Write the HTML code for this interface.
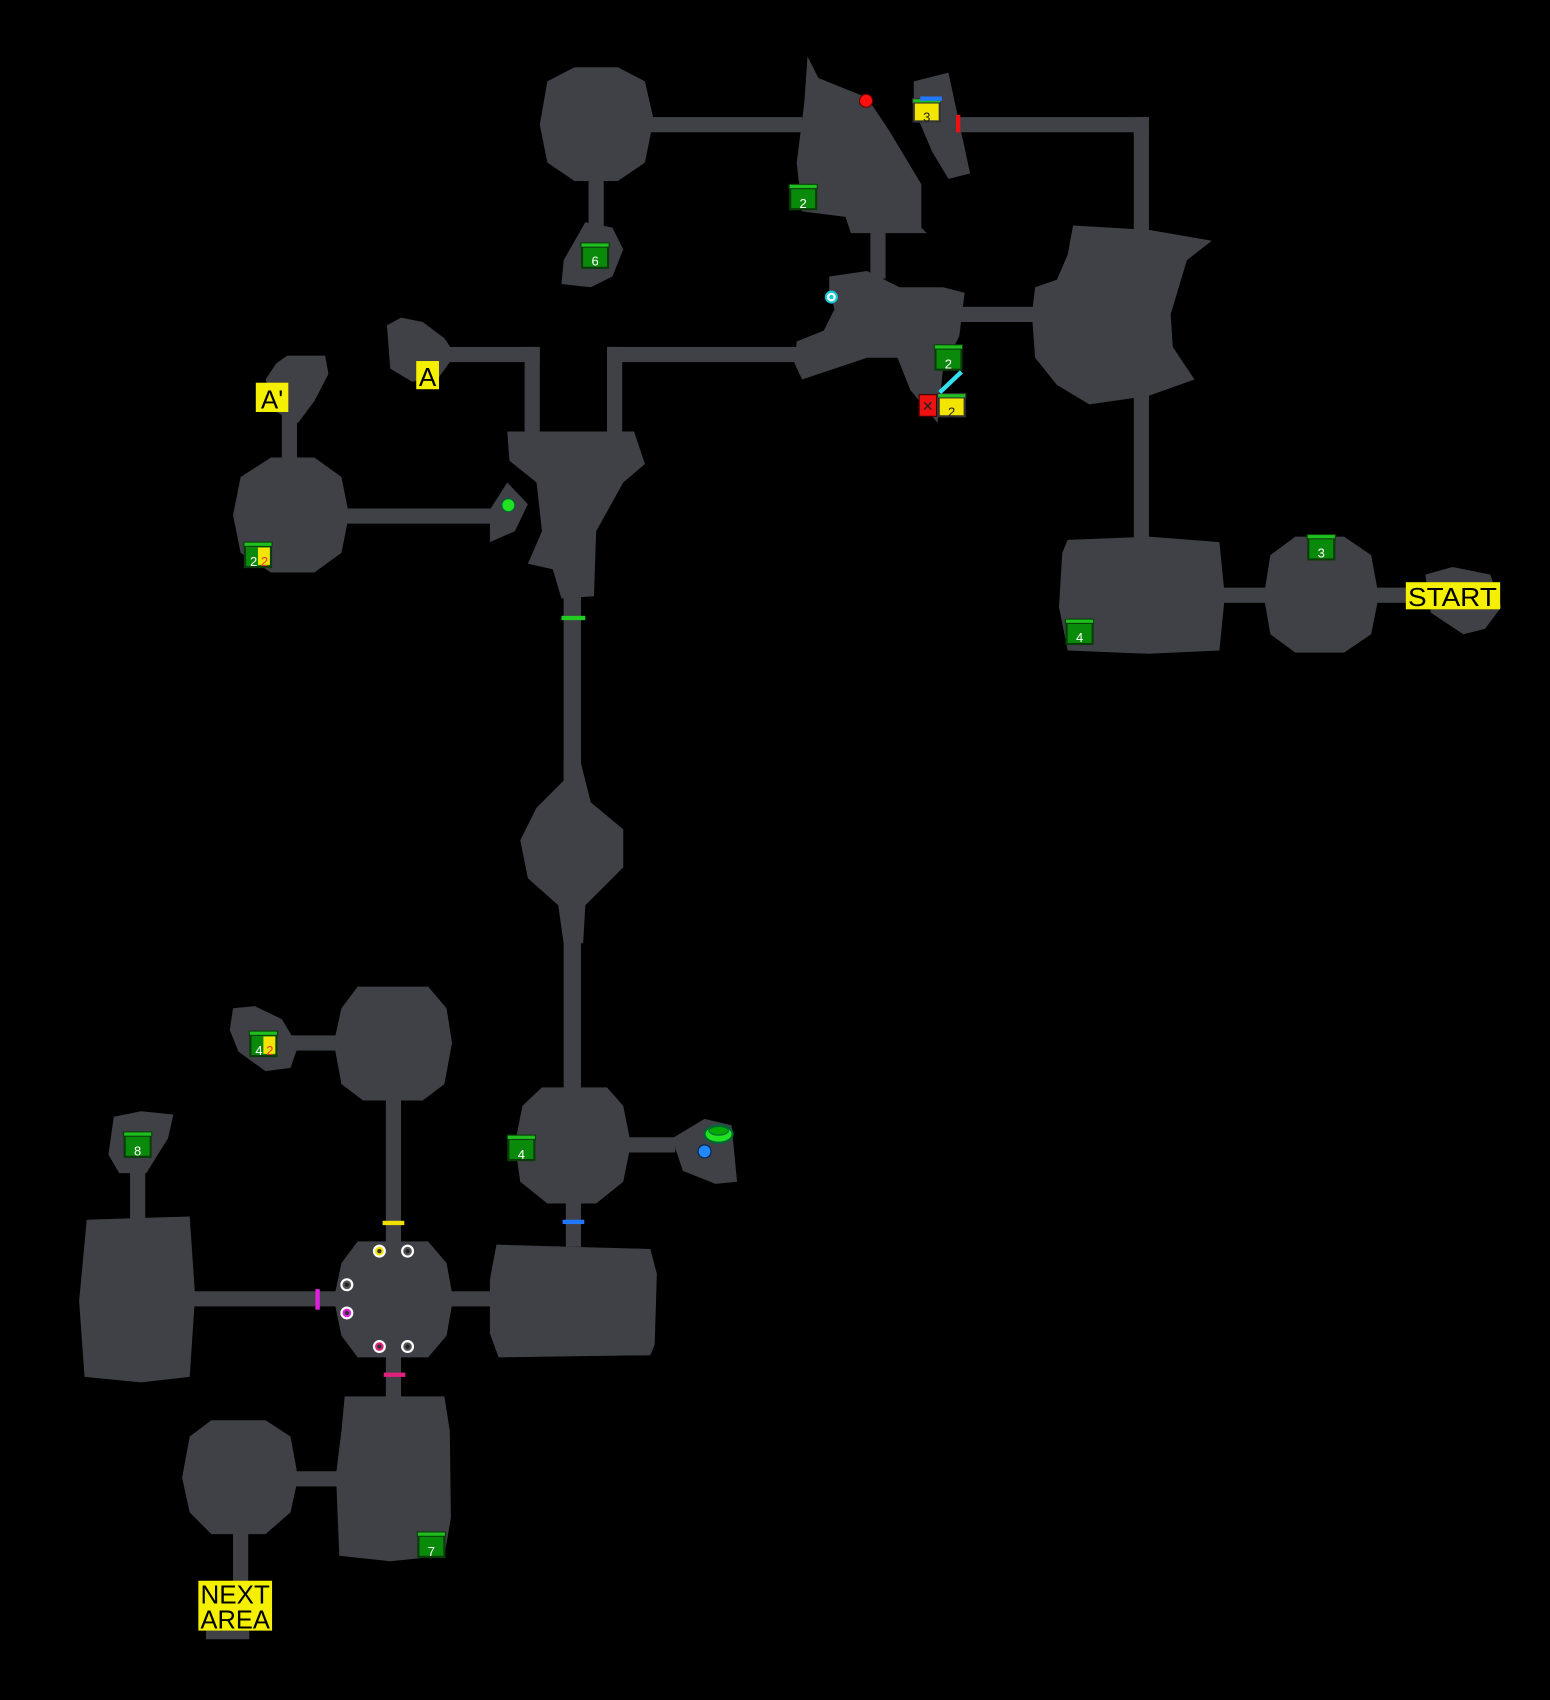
<!DOCTYPE html>
<html><head><meta charset="utf-8"><style>
html,body{margin:0;padding:0;background:#000;width:1550px;height:1700px;overflow:hidden}
svg{display:block}
text{font-family:"Liberation Sans",sans-serif}
</style></head><body>
<svg width="1550" height="1700" viewBox="0 0 1430 1568" preserveAspectRatio="none" xmlns="http://www.w3.org/2000/svg">
<rect width="1430" height="1568" fill="#000"/>
<defs>
<g id="chest"><rect x="-12" y="-10" width="24" height="20" fill="#0a8a0a" stroke="#0b3d0b" stroke-width="2"/><rect x="-13" y="-13" width="26" height="4" fill="#1fbf1f" stroke="#0b3d0b" stroke-width="1"/></g>
<g id="ychest"><rect x="-12" y="-10" width="24" height="18" fill="#f2e600" stroke="#333" stroke-width="2"/><rect x="-13" y="-13" width="26" height="4" fill="#1fbf1f" stroke="#333" stroke-width="1"/></g>
</defs>
<g fill="#3f4146">
<!-- corridors -->
<rect x="600" y="108" width="140" height="14"/>
<rect x="543" y="165" width="14" height="45"/>
<rect x="880" y="108" width="180" height="14"/>
<rect x="1046" y="108" width="14" height="110"/>
<rect x="803" y="212" width="14" height="45"/>
<rect x="880" y="283" width="78" height="14"/>
<rect x="1046" y="360" width="14" height="140"/>
<rect x="560" y="320" width="180" height="14"/>
<rect x="560" y="320" width="14" height="82"/>
<rect x="410" y="320" width="88" height="14"/>
<rect x="484" y="320" width="14" height="82"/>
<rect x="315" y="469" width="142" height="14"/>
<rect x="260" y="380" width="14" height="45"/>
<rect x="520" y="548" width="16" height="175"/>
<rect x="520" y="865" width="16" height="142"/>
<rect x="578" y="1049" width="45" height="14"/>
<rect x="522" y="1105" width="14" height="45"/>
<rect x="410" y="1191" width="48" height="14"/>
<rect x="175" y="1191" width="136" height="14"/>
<rect x="356" y="1012" width="14" height="136"/>
<rect x="356" y="1248" width="14" height="42"/>
<rect x="268" y="955" width="44" height="14"/>
<rect x="120" y="1080" width="14" height="48"/>
<rect x="270" y="1357" width="44" height="14"/>
<rect x="215" y="1412" width="14" height="50"/>
<rect x="1125" y="542" width="48" height="14"/>
<rect x="1268" y="542" width="34" height="14"/>
<rect x="190" y="1500" width="40" height="12"/>
<!-- rooms -->
<polygon points="530,62 570,62 595,75 603,110 595,150 570,167 530,167 505,150 498,115 505,75"/>
<polygon points="540,205 565,210 575,230 565,255 545,265 518,262 520,240"/>
<polygon points="745,52 755,72 800,90 820,120 850,170 850,210 855,215 785,215 780,200 740,195 735,150 742,95"/>
<polygon points="843,75 875,67 895,160 875,165 860,140 843,100"/>
<polygon points="765,255 800,250 830,265 870,265 890,270 885,310 870,340 865,390 840,360 828,330 800,330 770,340 740,350 733,335 735,315 760,305 770,285 765,270"/>
<polygon points="990,208 1060,212 1118,222 1095,240 1080,290 1082,320 1102,350 1060,365 1005,373 975,355 955,330 952,290 955,265 975,258 985,235"/>
<polygon points="357,300 370,293 390,297 410,312 420,327 405,348 380,352 360,340"/>
<polygon points="468,398 585,398 595,428 575,445 550,490 548,550 518,552 510,525 487,520 500,490 495,445 470,425"/>
<polygon points="452,470 468,445 487,465 475,490 452,500"/>
<polygon points="250,422 290,422 315,440 322,475 315,510 290,528 250,528 222,510 215,475 222,440"/>
<polygon points="265,328 300,328 303,345 290,370 275,390 255,380 245,350 255,335"/>
<polygon points="520,700 535,700 545,740 575,765 575,800 540,835 538,870 520,870 515,835 487,810 480,775 495,745 520,720"/>
<polygon points="500,1003 560,1003 575,1020 582,1055 575,1090 550,1110 505,1110 480,1090 475,1055 482,1020"/>
<polygon points="620,1050 650,1032 675,1038 680,1090 660,1092 630,1080"/>
<polygon points="458,1148 600,1152 606,1175 604,1240 600,1250 460,1252 452,1230 452,1180"/>
<polygon points="330,1145 395,1145 412,1165 418,1198 412,1232 395,1252 330,1252 315,1232 308,1198 315,1165"/>
<polygon points="330,910 395,910 412,930 417,962 410,1000 390,1015 335,1015 315,1000 308,962 315,930"/>
<polygon points="215,930 235,928 260,940 275,965 268,985 245,988 220,970 212,950"/>
<polygon points="80,1125 175,1122 180,1195 175,1270 130,1275 78,1270 73,1200"/>
<polygon points="105,1030 130,1025 160,1028 155,1050 135,1082 110,1082 100,1065"/>
<polygon points="318,1288 410,1288 415,1320 416,1400 410,1435 360,1440 313,1435 310,1360 315,1320"/>
<polygon points="195,1310 245,1310 268,1325 275,1363 268,1395 245,1415 195,1415 175,1395 168,1363 175,1325"/>
<polygon points="985,498 1060,495 1125,500 1130,550 1125,600 1060,603 985,600 977,560 980,510"/>
<polygon points="1195,495 1240,495 1265,512 1272,550 1265,585 1240,602 1195,602 1172,585 1166,550 1172,512"/>
<polygon points="1315,530 1340,523 1375,530 1385,560 1370,580 1350,585 1320,565"/>
</g>
<!-- labels -->
<g font-size="24">
<rect x="384" y="333" width="21" height="26" fill="#f5f000"/><text x="394.5" y="356" text-anchor="middle">A</text>
<rect x="236" y="353" width="30" height="27" fill="#f5f000"/><text x="251" y="377" text-anchor="middle">A'</text>
<rect x="1297" y="537" width="87" height="25" fill="#f5f000"/><text x="1340" y="559" text-anchor="middle" textLength="82" lengthAdjust="spacingAndGlyphs">START</text>
<rect x="183" y="1458" width="68" height="46" fill="#f5f000"/><text x="217" y="1479" text-anchor="middle" textLength="64" lengthAdjust="spacingAndGlyphs">NEXT</text><text x="217" y="1502" text-anchor="middle" textLength="64" lengthAdjust="spacingAndGlyphs">AREA</text>
</g>
<!-- chests -->
<g font-size="12" fill="#fff" text-anchor="middle">
<use href="#chest" x="741" y="183"/><text x="741" y="192">2</text>
<use href="#chest" x="549" y="237"/><text x="549" y="245">6</text>
<use href="#chest" x="875" y="331"/><text x="875" y="340">2</text>
<use href="#chest" x="1219" y="506"/><text x="1219" y="514">3</text>
<use href="#chest" x="996" y="584"/><text x="996" y="592">4</text>
<use href="#chest" x="481" y="1060"/><text x="481" y="1069">4</text>
<use href="#chest" x="127" y="1057"/><text x="127" y="1066">8</text>
<use href="#chest" x="398" y="1426"/><text x="398" y="1435">7</text>
<use href="#chest" x="238" y="513"/><rect x="238" y="505" width="11" height="16" fill="#f2e600"/><text x="234" y="522">2</text><text x="244" y="522" fill="#e33">2</text>
<use href="#chest" x="243" y="964"/><rect x="243" y="956" width="11" height="16" fill="#f2e600"/><text x="239" y="973">4</text><text x="249" y="973" fill="#e33">2</text>
<use href="#ychest" x="855" y="104"/><text x="855" y="112" fill="#222">3</text>
<use href="#ychest" x="878" y="376"/><text x="878" y="384" fill="#222">2</text>
</g>
<rect x="849" y="89" width="20" height="4" fill="#2277ff"/>
<!-- markers -->
<circle cx="799" cy="93" r="6" fill="#ff1010" stroke="#600" stroke-width="1"/>
<circle cx="767" cy="274" r="5" fill="#fff" stroke="#18c8d8" stroke-width="2"/><circle cx="767" cy="274" r="2" fill="#18c8d8"/>
<circle cx="469" cy="466" r="6" fill="#22e022" stroke="#063" stroke-width="1"/>
<circle cx="650" cy="1062" r="6" fill="#2288ff" stroke="#024" stroke-width="1"/>
<ellipse cx="663" cy="1046" rx="13" ry="8" fill="#22e022" stroke="#063" stroke-width="2"/><ellipse cx="663" cy="1043" rx="9" ry="4" fill="#0a0" stroke="#063" stroke-width="1"/>
<rect x="848" y="364" width="16" height="20" fill="#ee1111" stroke="#400" stroke-width="1"/><text x="856" y="379" font-size="13" text-anchor="middle" fill="#222">✕</text>
<line x1="867" y1="362" x2="887" y2="343" stroke="#33e0f0" stroke-width="4"/>
<rect x="882" y="106" width="4" height="16" fill="#ee1111"/>
<rect x="518" y="568" width="22" height="4" fill="#22cc22"/>
<rect x="353" y="1126" width="20" height="4" fill="#f0e000"/>
<rect x="519" y="1125" width="20" height="4" fill="#2277ff"/>
<rect x="354" y="1266" width="20" height="4" fill="#e0207a"/>
<rect x="291" y="1189" width="4" height="19" fill="#e020e0"/>
<g stroke-width="2">
<circle cx="350" cy="1154" r="5" fill="#f0e000" stroke="#fff"/><circle cx="350" cy="1154" r="2" fill="#333"/>
<circle cx="376" cy="1154" r="5" fill="#555" stroke="#fff"/><circle cx="376" cy="1154" r="2" fill="#222"/>
<circle cx="320" cy="1185" r="5" fill="#555" stroke="#fff"/><circle cx="320" cy="1185" r="2" fill="#222"/>
<circle cx="320" cy="1211" r="5" fill="#e020e0" stroke="#fff"/><circle cx="320" cy="1211" r="2" fill="#333"/>
<circle cx="350" cy="1242" r="5" fill="#e0207a" stroke="#fff"/><circle cx="350" cy="1242" r="2" fill="#333"/>
<circle cx="376" cy="1242" r="5" fill="#555" stroke="#fff"/><circle cx="376" cy="1242" r="2" fill="#222"/>
</g>
</svg>
</body></html>
